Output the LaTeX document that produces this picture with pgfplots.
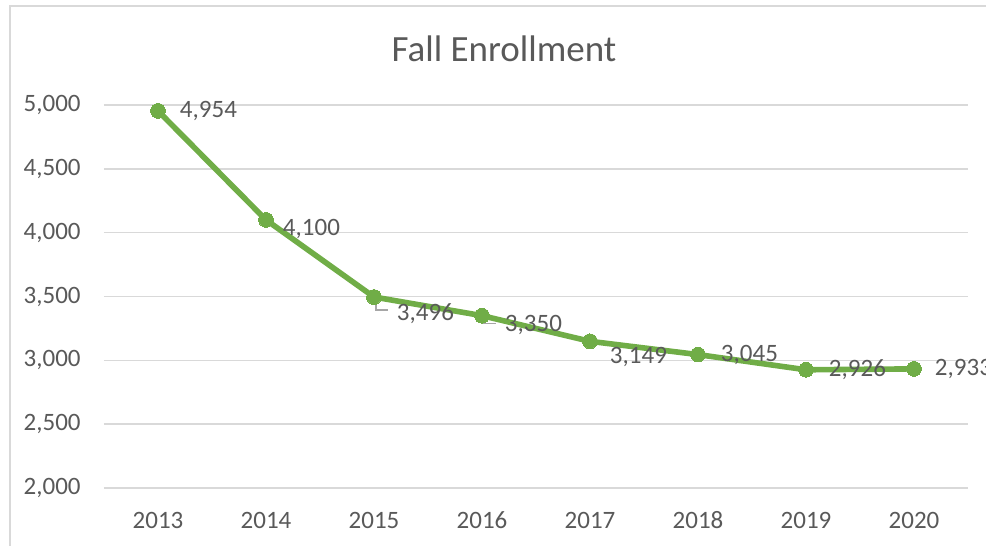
\documentclass[border=0pt]{standalone}
\usepackage{fontspec}
\setmainfont{Carlito}
\usepackage{pgfplots}
\usepackage{pgfplotstable}
\pgfplotsset{compat=1.18}
\definecolor{linegreen}{HTML}{70AD47}
\definecolor{txtgray}{HTML}{595959}
\definecolor{gridgray}{HTML}{D9D9D9}
\definecolor{leadgray}{HTML}{A6A6A6}
\pgfplotstableread{
x y dx dy
0 4954 11 0
1 4100 8.5 -4.5
2 3496 11.5 -8.5
3 3350 11.5 -4.5
4 3149 10 -8
5 3045 11.5 0
6 2926 11.5 0
7 2933 10.5 0
}\enroll
\begin{document}
\begin{tikzpicture}
\clip (-52pt,-29pt) rectangle (441pt,244pt);
\draw[gridgray, line width=0.75pt] (-47pt,-40pt) -- (-47pt,241pt) -- (460pt,241pt);
\node[anchor=base, text=txtgray, font=\fontsize{18.5}{22}\selectfont] at (200pt,213pt) {Fall Enrollment};
\begin{axis}[
  scale only axis, width=432pt, height=191.5pt,
  at={(0,0)}, anchor=south west,
  xmin=-0.5, xmax=7.5, ymin=2000, ymax=5000,
  xtick={0,1,2,3,4,5,6,7},
  xticklabels={2013,2014,2015,2016,2017,2018,2019,2020},
  ytick={2000,2500,3000,3500,4000,4500,5000},
  ymajorgrids, grid style={gridgray, line width=0.75pt},
  axis line style={draw=none}, major tick length=0pt,
  tick label style={font=\fontsize{12.5}{15}\selectfont, text=txtgray},
  yticklabel style={anchor=east, inner sep=0pt, xshift=-11.5pt},
  xticklabel style={anchor=base, inner sep=0pt, yshift=-20pt},
  /pgf/number format/assume math mode=true,
  /pgf/number format/1000 sep={,},
  clip=false,
]
\draw[leadgray, line width=0.6pt] (axis cs:2,3496) ++(1pt,-3.5pt) -- ++(0pt,-3pt) -- ++(6pt,0pt);
\draw[leadgray, line width=0.6pt] (axis cs:3,3350) ++(0pt,-3.5pt) -- ++(0pt,-0.5pt) -- ++(7pt,0pt);
\addplot[linegreen, line width=2.8pt, line join=round, line cap=round,
  mark=*, mark size=3.7pt, mark options={fill=linegreen, draw=linegreen, line width=0pt},
  visualization depends on={\thisrow{dx}\as\dx},
  visualization depends on={\thisrow{dy}\as\dy},
  nodes near coords,
  nodes near coords style={anchor=west, xshift=\dx pt, yshift=\dy pt, inner sep=0pt,
    font=\fontsize{12.5}{15}\selectfont, text=txtgray},
] table[x=x, y=y] {\enroll};
\end{axis}
\end{tikzpicture}
\end{document}
